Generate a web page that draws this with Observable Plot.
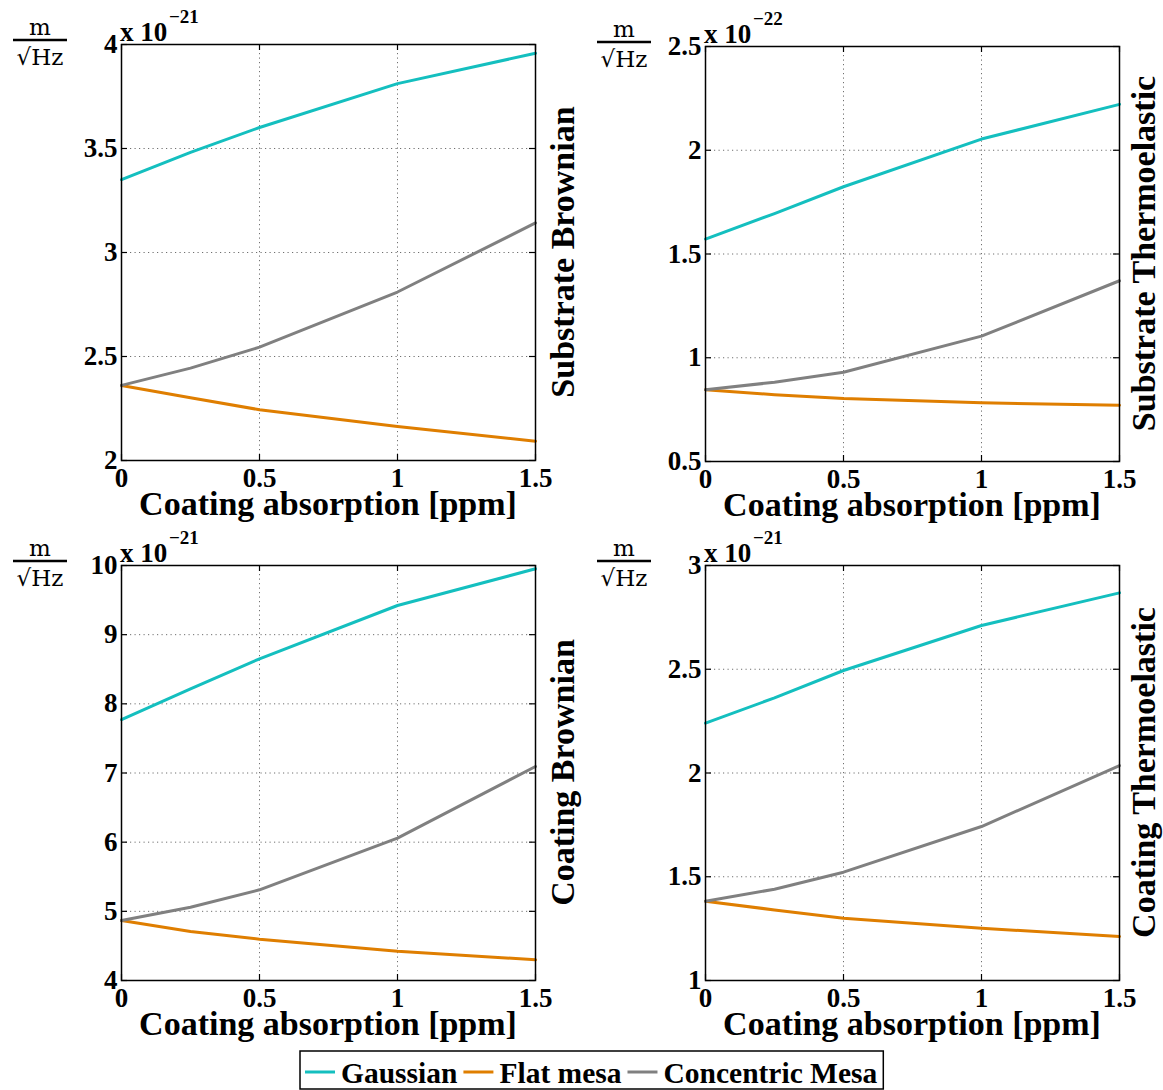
<!DOCTYPE html>
<html>
<head>
<meta charset="utf-8">
<script src="https://cdn.jsdelivr.net/npm/d3@7"></script>
<script src="https://cdn.jsdelivr.net/npm/@observablehq/plot@0.6"></script>
<style>
  body { margin: 0; background: #fff; }
  #root { position: relative; width: 1163px; height: 1090px; overflow: hidden; background: #fff; }
  #root svg { position: absolute; }
</style>
</head>
<body>
<div id="root"></div>
<script>
// ---------- data ----------
const absorption = [0, 0.25, 0.5, 1, 1.5];           // Coating absorption [ppm]
const xTicks = [0, 0.5, 1, 1.5];
const seriesNames = ["Gaussian", "Flat mesa", "Concentric Mesa"];
const seriesColors = ["#14BFBF", "#DF7E00", "#808080"];

// Substrate Brownian (x 10^-21 m/sqrt(Hz))
const subBrownGaussian   = [3.350, 3.481, 3.601, 3.812, 3.958];
const subBrownFlat       = [2.361, 2.302, 2.244, 2.164, 2.093];
const subBrownConcentric = [2.361, 2.444, 2.545, 2.810, 3.142];
const subBrownTicks = [2, 2.5, 3, 3.5, 4];

// Substrate Thermoelastic (x 10^-22 m/sqrt(Hz))
const subThermoGaussian   = [1.572, 1.695, 1.824, 2.054, 2.221];
const subThermoFlat       = [0.846, 0.822, 0.804, 0.783, 0.771];
const subThermoConcentric = [0.846, 0.882, 0.930, 1.104, 1.371];
const subThermoTicks = [0.5, 1, 1.5, 2, 2.5];

// Coating Brownian (x 10^-21 m/sqrt(Hz))
const coatBrownGaussian   = [7.773, 8.217, 8.651, 9.422, 9.952];
const coatBrownFlat       = [4.867, 4.708, 4.598, 4.424, 4.299];
const coatBrownConcentric = [4.867, 5.060, 5.311, 6.058, 7.094];
const coatBrownTicks = [4, 5, 6, 7, 8, 9, 10];

// Coating Thermoelastic (x 10^-21 m/sqrt(Hz))
const coatThermoGaussian   = [2.240, 2.362, 2.494, 2.711, 2.868];
const coatThermoFlat       = [1.382, 1.340, 1.300, 1.252, 1.212];
const coatThermoConcentric = [1.382, 1.440, 1.522, 1.742, 2.036];
const coatThermoTicks = [1, 1.5, 2, 2.5, 3];

const panelTitles = ["Substrate Brownian", "Substrate Thermoelastic", "Coating Brownian", "Coating Thermoelastic"];
const panelExponents = ["\u221221", "\u221222", "\u221221", "\u221221"];
const xLabel = "Coating absorption [ppm]";

// ---------- layout ----------
const frames = [
  {left: 121, top: 44,  w: 414, h: 416, titleOffset: 39},
  {left: 705, top: 46,  w: 414, h: 415, titleOffset: 36},
  {left: 121, top: 565, w: 414, h: 415, titleOffset: 39},
  {left: 705, top: 565, w: 414, h: 415, titleOffset: 36}
];
const panelSeries = [
  [subBrownGaussian, subBrownFlat, subBrownConcentric],
  [subThermoGaussian, subThermoFlat, subThermoConcentric],
  [coatBrownGaussian, coatBrownFlat, coatBrownConcentric],
  [coatThermoGaussian, coatThermoFlat, coatThermoConcentric]
];
const panelTicks = [subBrownTicks, subThermoTicks, coatBrownTicks, coatThermoTicks];

const serif = "'Liberation Serif', 'Times New Roman', serif";
const root = document.getElementById("root");
const ml = 70, mr = 10, mt = 10, mb = 40;

panelSeries.forEach((series, i) => {
  const f = frames[i];
  const ticks = panelTicks[i];
  const rows = [];
  series.forEach((vals, s) => vals.forEach((v, k) => rows.push({x: absorption[k], y: v, series: seriesNames[s]})));
  const yInner = ticks.slice(1, -1);
  const xInner = xTicks.slice(1, -1);
  const grid = {stroke: "#6f6f6f", strokeOpacity: 1, strokeWidth: 1, strokeDasharray: "1.2,3.3"};
  const tk = {stroke: "#000", strokeWidth: 1.2};
  const chart = Plot.plot({
    width: f.w + ml + mr,
    height: f.h + mt + mb,
    marginLeft: ml, marginRight: mr, marginTop: mt, marginBottom: mb,
    style: {fontFamily: serif, fontSize: "27px", fontWeight: "bold", color: "#000", background: "transparent", overflow: "visible"},
    x: {domain: [0, 1.5]},
    y: {domain: [ticks[0], ticks[ticks.length - 1]]},
    color: {domain: seriesNames, range: seriesColors},
    marks: [
      Plot.gridX(xInner, grid),
      Plot.gridY(yInner, grid),
      Plot.ruleX(xTicks, {x: d => d, insetTop: f.h - 6, ...tk}),
      Plot.ruleX(xTicks, {x: d => d, insetBottom: f.h - 6, ...tk}),
      Plot.ruleY(ticks, {y: d => d, insetRight: f.w - 6, ...tk}),
      Plot.ruleY(ticks, {y: d => d, insetLeft: f.w - 6, ...tk}),
      Plot.line(rows, {x: "x", y: "y", z: "series", stroke: "series", strokeWidth: 3}),
      Plot.frame({stroke: "#000", strokeWidth: 1.5}),
      Plot.axisX(xTicks, {tickSize: 0, tickPadding: 7, label: null, tickFormat: d => String(d)}),
      Plot.axisY(ticks, {tickSize: 0, tickPadding: 4, label: null, tickFormat: d => String(d)})
    ]
  });
  chart.style.left = (f.left - ml) + "px";
  chart.style.top = (f.top - mt) + "px";
  root.appendChild(chart);
});

// ---------- text overlay ----------
const ov = d3.select(root).append("svg")
  .attr("width", 1163).attr("height", 1090)
  .style("left", "0px").style("top", "0px")
  .style("pointer-events", "none");

frames.forEach((f, i) => {
  // exponent label
  ov.append("text").attr("x", f.left - 1).attr("y", f.top - 3)
    .attr("font-family", serif).attr("font-weight", "bold").attr("font-size", 27)
    .text("x 10");
  ov.append("text").attr("x", f.left + 48).attr("y", f.top - 21)
    .attr("font-family", serif).attr("font-weight", "bold").attr("font-size", 19)
    .text(panelExponents[i]);
  // unit fraction m / sqrt(Hz)
  const cx = f.left - 81;
  ov.append("text").attr("x", cx).attr("y", f.top - 9).attr("text-anchor", "middle")
    .attr("font-family", "'DejaVu Serif', serif").attr("font-size", 23).text("m");
  ov.append("line").attr("x1", cx - 27).attr("x2", cx + 27).attr("y1", f.top - 4).attr("y2", f.top - 4)
    .attr("stroke", "#000").attr("stroke-width", 2.5);
  ov.append("text").attr("x", cx).attr("y", f.top + 21).attr("text-anchor", "middle")
    .attr("font-family", "'DejaVu Serif', serif").attr("font-size", 23).text("\u221AHz");
  // x label
  ov.append("text").attr("x", f.left + f.w / 2).attr("y", f.top + f.h + 55).attr("text-anchor", "middle")
    .attr("font-family", serif).attr("font-weight", "bold").attr("font-size", 34).text(xLabel);
  // right rotated title
  ov.append("text")
    .attr("transform", `translate(${f.left + f.w + f.titleOffset},${f.top + f.h / 2}) rotate(-90)`)
    .attr("text-anchor", "middle")
    .attr("font-family", serif).attr("font-weight", "bold").attr("font-size", 34).text(panelTitles[i]);
});

// ---------- legend ----------
const lg = ov.append("g");
const box = lg.append("rect").attr("x", 300).attr("y", 1051).attr("height", 38)
  .attr("fill", "#fff").attr("stroke", "#000").attr("stroke-width", 1.5);
let lx = 305;
seriesNames.forEach((name, s) => {
  lg.append("line").attr("x1", lx).attr("x2", lx + 30).attr("y1", 1072).attr("y2", 1072)
    .attr("stroke", seriesColors[s]).attr("stroke-width", 3);
  const t = lg.append("text").attr("x", lx + 36).attr("y", 1083)
    .attr("font-family", serif).attr("font-weight", "bold").attr("font-size", 29.5).text(name);
  lx += 36 + t.node().getComputedTextLength() + 6;
});
box.attr("width", Math.max(582, lx - 300));
</script>
</body>
</html>
